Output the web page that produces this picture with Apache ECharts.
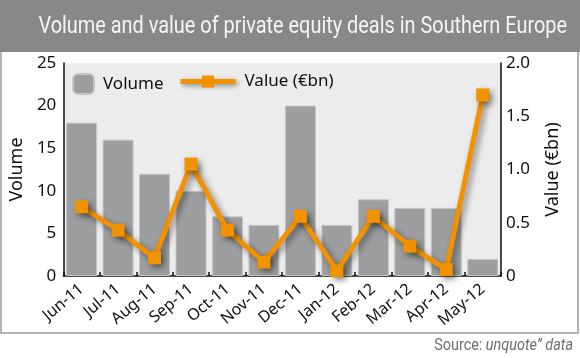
<!DOCTYPE html>
<html>
<head>
<meta charset="utf-8">
<script src="https://cdn.jsdelivr.net/npm/echarts@6/dist/echarts.min.js"></script>
<style>
html,body{margin:0;padding:0;background:#fff;}
#c{width:580px;height:358px;}
</style>
</head>
<body>
<div id="c"></div>
<script>
const categories = ['Jun-11','Jul-11','Aug-11','Sep-11','Oct-11','Nov-11','Dec-11','Jan-12','Feb-12','Mar-12','Apr-12','May-12'];
const volume = [18, 16, 12, 10, 7, 6, 20, 6, 9, 8, 8, 2];
const valueBn = [0.65, 0.43, 0.17, 1.05, 0.43, 0.13, 0.56, 0.05, 0.56, 0.28, 0.06, 1.70];
const volumeTicks = [0, 25, 5];
const valueTicks = [0, 2, 0.5];

const chart = echarts.init(document.getElementById('c'), null, {renderer: 'canvas'});
const tickFont = '"Noto Sans", "Open Sans", sans-serif';
const condFont = 'Roboto, sans-serif';
const orange = '#f39200';
const barGray = '#9d9ea0';

chart.setOption({
  animation: false,
  backgroundColor: '#ffffff',
  graphic: [
    {type: 'rect', z: -10, shape: {x: 1, y: 0, width: 577, height: 333}, style: {fill: '#ffffff', stroke: '#9a9a9a', lineWidth: 1.5}},
    {type: 'rect', z: -9, shape: {x: 0, y: 0, width: 580, height: 52}, style: {fill: '#87888a'}},
    {type: 'text', z: 10, x: 567, y: 27, scaleX: 0.865, originX: 0, originY: 0,
     style: {text: 'Volume and value of private equity deals in Southern Europe', fill: '#f5f5f5', font: '23px ' + condFont, align: 'right', verticalAlign: 'middle'}},
    {type: 'text', z: 10, x: 573, y: 346, scaleX: 0.9, originX: 0, originY: 0,
     style: {rich: {a: {fill: '#6d6e70', font: '16px ' + condFont}, b: {fill: '#6d6e70', font: 'italic 16px ' + condFont}}, text: '{a|Source: }{b|unquote\u201D data}', align: 'right', verticalAlign: 'middle'}}
  ],
  grid: {left: 59, right: 79, top: 63, bottom: 82, show: true, backgroundColor: '#ececec', borderWidth: 0},
  legend: [
    {data: ['Volume'], left: 72, top: 73, itemWidth: 21, itemHeight: 20, padding: 0,
     textStyle: {fontFamily: tickFont, fontSize: 17, color: '#111', padding: [0,0,0,4]}},
    {data: ['Value (\u20ACbn)'], left: 178, top: 73, itemWidth: 55, itemHeight: 15, padding: 0,
     lineStyle: {width: 5, color: orange, shadowColor: 'rgba(0,0,0,0.4)', shadowBlur: 5, shadowOffsetX: 2, shadowOffsetY: 2},
     textStyle: {fontFamily: tickFont, fontSize: 17, color: '#111', padding: [0,0,0,4]}}
  ],
  xAxis: {
    type: 'category', data: categories, boundaryGap: true,
    axisLine: {lineStyle: {color: '#111', width: 1.5}},
    axisTick: {show: true, inside: true, length: 4, lineStyle: {color: '#111', width: 1.5}},
    axisLabel: {rotate: 40, margin: 11, fontFamily: tickFont, fontSize: 16, color: '#111'}
  },
  yAxis: [
    {type: 'value', min: volumeTicks[0], max: volumeTicks[1], interval: volumeTicks[2],
     name: 'Volume', nameLocation: 'middle', nameGap: 31, nameRotate: 90,
     nameTextStyle: {fontFamily: tickFont, fontSize: 18, color: '#111'},
     axisLine: {show: true, lineStyle: {color: '#111', width: 1.5}},
     axisTick: {show: false}, splitLine: {show: false},
     axisLabel: {margin: 7, fontFamily: tickFont, fontSize: 17, color: '#111'}},
    {type: 'value', min: valueTicks[0], max: valueTicks[1], interval: valueTicks[2], position: 'right',
     name: 'Value (\u20ACbn)', nameLocation: 'middle', nameGap: 43, nameRotate: 90,
     nameTextStyle: {fontFamily: tickFont, fontSize: 18, color: '#111'},
     axisLine: {show: true, lineStyle: {color: '#111', width: 1.5}},
     axisTick: {show: false}, splitLine: {show: false},
     axisLabel: {margin: 5, fontFamily: tickFont, fontSize: 17, color: '#111',
       formatter: v => v === 0 ? '0' : v.toFixed(1)}}
  ],
  series: [
    {name: 'Volume', type: 'bar', data: volume, yAxisIndex: 0, barCategoryGap: '15%',
     itemStyle: {color: barGray, borderColor: '#c6c6c8', borderWidth: 1}},
    {name: 'Value (\u20ACbn)', type: 'line', data: valueBn, yAxisIndex: 1,
     symbol: 'rect', symbolSize: 13,
     lineStyle: {color: orange, width: 5, shadowColor: 'rgba(0,0,0,0.45)', shadowBlur: 6, shadowOffsetX: 3, shadowOffsetY: 3},
     itemStyle: {color: orange, shadowColor: 'rgba(0,0,0,0.45)', shadowBlur: 6, shadowOffsetX: 3, shadowOffsetY: 3}}
  ]
});
</script>
</body>
</html>
